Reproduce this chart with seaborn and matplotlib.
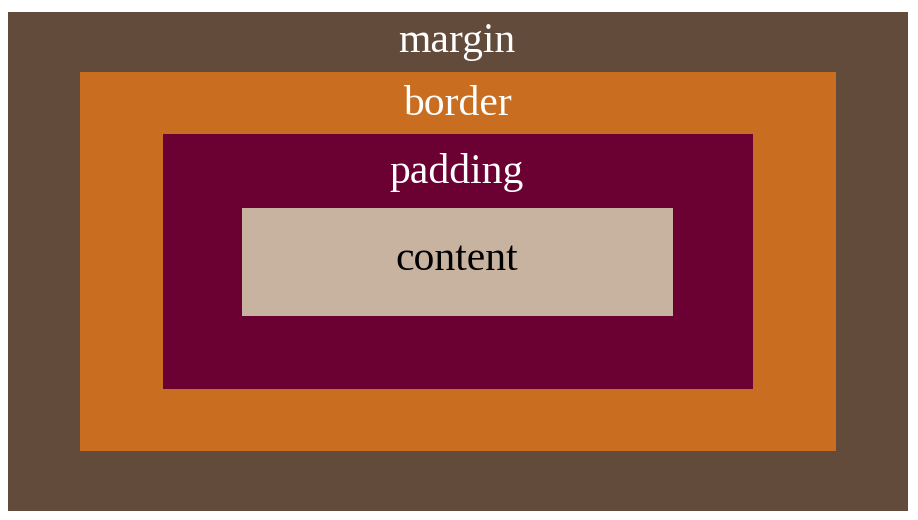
import matplotlib
matplotlib.use("Agg")
import matplotlib.pyplot as plt
from matplotlib.patches import Rectangle
import seaborn as sns

sns.set_theme(style="white")

# box layers, outer to inner (pixel coords of the 918x520 picture)
labels = ["margin", "border", "padding", "content"]
colors = ["#634b3b", "#c96e21", "#6b0032", "#c8b3a0"]
text_colors = ["white", "white", "white", "black"]
x0 = [8, 80, 163, 242]
x1 = [908, 836, 753, 673]
y0 = [12, 72, 134, 208]
y1 = [511, 451, 389, 316]
label_y = [42, 105, 172, 260]

fig = plt.figure(figsize=(9.18, 5.2), dpi=100)
ax = fig.add_axes([0, 0, 1, 1])
ax.set_xlim(0, 918)
ax.set_ylim(520, 0)
ax.axis("off")

for lab, c, tc, a, b, c0, c1, ly in zip(labels, colors, text_colors, x0, x1, y0, y1, label_y):
    ax.add_patch(Rectangle((a, c0), b - a, c1 - c0, facecolor=c, edgecolor="none"))
    ax.text(457, ly, lab, color=tc, fontsize=30, family="Liberation Serif",
            ha="center", va="center")

fig.savefig("out.png", dpi=100)
